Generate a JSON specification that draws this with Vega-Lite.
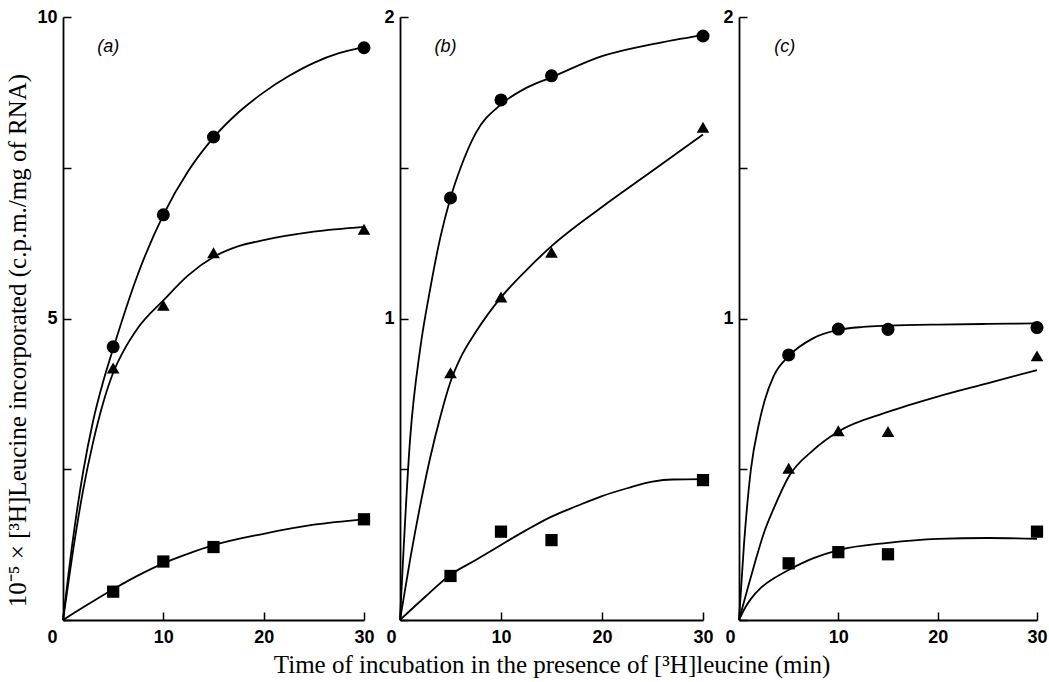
{
  "$schema": "https://vega.github.io/schema/vega-lite/v6.json",
  "padding": {"left": 5, "top": 8, "right": 2, "bottom": 3},
  "background": "white",
  "bounds": "flush",
  "spacing": 36,
  "datasets": {
    "points": [
      {"panel": "a", "series": "circle", "x": 5, "y": 4.53},
      {"panel": "a", "series": "circle", "x": 10, "y": 6.72},
      {"panel": "a", "series": "circle", "x": 15, "y": 8.01},
      {"panel": "a", "series": "circle", "x": 30, "y": 9.49},
      {"panel": "a", "series": "triangle", "x": 5, "y": 4.18},
      {"panel": "a", "series": "triangle", "x": 10, "y": 5.22},
      {"panel": "a", "series": "triangle", "x": 15, "y": 6.09},
      {"panel": "a", "series": "triangle", "x": 30, "y": 6.48},
      {"panel": "a", "series": "square", "x": 5, "y": 0.47},
      {"panel": "a", "series": "square", "x": 10, "y": 0.97},
      {"panel": "a", "series": "square", "x": 15, "y": 1.21},
      {"panel": "a", "series": "square", "x": 30, "y": 1.67},
      {"panel": "b", "series": "circle", "x": 5, "y": 1.40},
      {"panel": "b", "series": "circle", "x": 10, "y": 1.725},
      {"panel": "b", "series": "circle", "x": 15, "y": 1.805},
      {"panel": "b", "series": "circle", "x": 30, "y": 1.937},
      {"panel": "b", "series": "triangle", "x": 5, "y": 0.82},
      {"panel": "b", "series": "triangle", "x": 10, "y": 1.071},
      {"panel": "b", "series": "triangle", "x": 15, "y": 1.22},
      {"panel": "b", "series": "triangle", "x": 30, "y": 1.634},
      {"panel": "b", "series": "square", "x": 5, "y": 0.146},
      {"panel": "b", "series": "square", "x": 10, "y": 0.293},
      {"panel": "b", "series": "square", "x": 15, "y": 0.265},
      {"panel": "b", "series": "square", "x": 30, "y": 0.464},
      {"panel": "c", "series": "circle", "x": 5, "y": 0.879},
      {"panel": "c", "series": "circle", "x": 10, "y": 0.965},
      {"panel": "c", "series": "circle", "x": 15, "y": 0.964},
      {"panel": "c", "series": "circle", "x": 30, "y": 0.97},
      {"panel": "c", "series": "triangle", "x": 5, "y": 0.503},
      {"panel": "c", "series": "triangle", "x": 10, "y": 0.628},
      {"panel": "c", "series": "triangle", "x": 15, "y": 0.625},
      {"panel": "c", "series": "triangle", "x": 30, "y": 0.876},
      {"panel": "c", "series": "square", "x": 5, "y": 0.188},
      {"panel": "c", "series": "square", "x": 10, "y": 0.225},
      {"panel": "c", "series": "square", "x": 15, "y": 0.218},
      {"panel": "c", "series": "square", "x": 30, "y": 0.293}
    ],
    "curves": [
      {"panel": "a", "series": "circle", "x": 0, "y": 0},
      {"panel": "a", "series": "circle", "x": 1, "y": 1.35},
      {"panel": "a", "series": "circle", "x": 2, "y": 2.45},
      {"panel": "a", "series": "circle", "x": 3, "y": 3.3},
      {"panel": "a", "series": "circle", "x": 4, "y": 3.95},
      {"panel": "a", "series": "circle", "x": 5, "y": 4.5},
      {"panel": "a", "series": "circle", "x": 7.5, "y": 5.75},
      {"panel": "a", "series": "circle", "x": 10, "y": 6.72},
      {"panel": "a", "series": "circle", "x": 12.5, "y": 7.45},
      {"panel": "a", "series": "circle", "x": 15, "y": 8.0},
      {"panel": "a", "series": "circle", "x": 17.5, "y": 8.42},
      {"panel": "a", "series": "circle", "x": 20, "y": 8.75},
      {"panel": "a", "series": "circle", "x": 22.5, "y": 9.02},
      {"panel": "a", "series": "circle", "x": 25, "y": 9.24},
      {"panel": "a", "series": "circle", "x": 27.5, "y": 9.4},
      {"panel": "a", "series": "circle", "x": 30, "y": 9.5},
      {"panel": "a", "series": "triangle", "x": 0, "y": 0},
      {"panel": "a", "series": "triangle", "x": 1, "y": 1.15},
      {"panel": "a", "series": "triangle", "x": 2, "y": 2.15},
      {"panel": "a", "series": "triangle", "x": 3, "y": 2.95},
      {"panel": "a", "series": "triangle", "x": 4, "y": 3.6},
      {"panel": "a", "series": "triangle", "x": 5, "y": 4.1},
      {"panel": "a", "series": "triangle", "x": 6, "y": 4.45},
      {"panel": "a", "series": "triangle", "x": 7.5, "y": 4.85},
      {"panel": "a", "series": "triangle", "x": 10, "y": 5.3},
      {"panel": "a", "series": "triangle", "x": 12.5, "y": 5.72},
      {"panel": "a", "series": "triangle", "x": 15, "y": 6.02},
      {"panel": "a", "series": "triangle", "x": 17.5, "y": 6.2},
      {"panel": "a", "series": "triangle", "x": 20, "y": 6.3},
      {"panel": "a", "series": "triangle", "x": 25, "y": 6.44},
      {"panel": "a", "series": "triangle", "x": 30, "y": 6.52},
      {"panel": "a", "series": "square", "x": 0, "y": 0},
      {"panel": "a", "series": "square", "x": 2.5, "y": 0.26},
      {"panel": "a", "series": "square", "x": 5, "y": 0.51},
      {"panel": "a", "series": "square", "x": 7.5, "y": 0.74},
      {"panel": "a", "series": "square", "x": 10, "y": 0.94},
      {"panel": "a", "series": "square", "x": 12.5, "y": 1.1},
      {"panel": "a", "series": "square", "x": 15, "y": 1.24},
      {"panel": "a", "series": "square", "x": 20, "y": 1.43},
      {"panel": "a", "series": "square", "x": 25, "y": 1.58},
      {"panel": "a", "series": "square", "x": 30, "y": 1.67},
      {"panel": "b", "series": "circle", "x": 0, "y": 0},
      {"panel": "b", "series": "circle", "x": 1, "y": 0.6},
      {"panel": "b", "series": "circle", "x": 2, "y": 0.9},
      {"panel": "b", "series": "circle", "x": 3, "y": 1.1},
      {"panel": "b", "series": "circle", "x": 4, "y": 1.27},
      {"panel": "b", "series": "circle", "x": 5, "y": 1.4},
      {"panel": "b", "series": "circle", "x": 6, "y": 1.5},
      {"panel": "b", "series": "circle", "x": 7.5, "y": 1.615},
      {"panel": "b", "series": "circle", "x": 10, "y": 1.71},
      {"panel": "b", "series": "circle", "x": 12.5, "y": 1.765},
      {"panel": "b", "series": "circle", "x": 15, "y": 1.8},
      {"panel": "b", "series": "circle", "x": 20, "y": 1.87},
      {"panel": "b", "series": "circle", "x": 25, "y": 1.91},
      {"panel": "b", "series": "circle", "x": 30, "y": 1.94},
      {"panel": "b", "series": "triangle", "x": 0, "y": 0},
      {"panel": "b", "series": "triangle", "x": 1, "y": 0.2},
      {"panel": "b", "series": "triangle", "x": 2, "y": 0.38},
      {"panel": "b", "series": "triangle", "x": 3, "y": 0.54},
      {"panel": "b", "series": "triangle", "x": 4, "y": 0.675},
      {"panel": "b", "series": "triangle", "x": 5, "y": 0.79},
      {"panel": "b", "series": "triangle", "x": 6, "y": 0.87},
      {"panel": "b", "series": "triangle", "x": 7.5, "y": 0.955},
      {"panel": "b", "series": "triangle", "x": 10, "y": 1.07},
      {"panel": "b", "series": "triangle", "x": 12.5, "y": 1.16},
      {"panel": "b", "series": "triangle", "x": 15, "y": 1.24},
      {"panel": "b", "series": "triangle", "x": 20, "y": 1.37},
      {"panel": "b", "series": "triangle", "x": 25, "y": 1.49},
      {"panel": "b", "series": "triangle", "x": 30, "y": 1.61},
      {"panel": "b", "series": "square", "x": 0, "y": 0},
      {"panel": "b", "series": "square", "x": 2.5, "y": 0.077},
      {"panel": "b", "series": "square", "x": 5, "y": 0.15},
      {"panel": "b", "series": "square", "x": 7.5, "y": 0.199},
      {"panel": "b", "series": "square", "x": 10, "y": 0.249},
      {"panel": "b", "series": "square", "x": 12.5, "y": 0.298},
      {"panel": "b", "series": "square", "x": 15, "y": 0.343},
      {"panel": "b", "series": "square", "x": 17.5, "y": 0.378},
      {"panel": "b", "series": "square", "x": 20, "y": 0.411},
      {"panel": "b", "series": "square", "x": 22.5, "y": 0.437},
      {"panel": "b", "series": "square", "x": 25, "y": 0.459},
      {"panel": "b", "series": "square", "x": 27, "y": 0.466},
      {"panel": "b", "series": "square", "x": 30, "y": 0.467},
      {"panel": "c", "series": "circle", "x": 0, "y": 0},
      {"panel": "c", "series": "circle", "x": 0.5, "y": 0.25},
      {"panel": "c", "series": "circle", "x": 1.2, "y": 0.5},
      {"panel": "c", "series": "circle", "x": 2, "y": 0.65},
      {"panel": "c", "series": "circle", "x": 2.6, "y": 0.73},
      {"panel": "c", "series": "circle", "x": 3.5, "y": 0.81},
      {"panel": "c", "series": "circle", "x": 5, "y": 0.875},
      {"panel": "c", "series": "circle", "x": 7.5, "y": 0.935},
      {"panel": "c", "series": "circle", "x": 10, "y": 0.962},
      {"panel": "c", "series": "circle", "x": 12.5, "y": 0.972},
      {"panel": "c", "series": "circle", "x": 15, "y": 0.976},
      {"panel": "c", "series": "circle", "x": 20, "y": 0.98},
      {"panel": "c", "series": "circle", "x": 25, "y": 0.982},
      {"panel": "c", "series": "circle", "x": 30, "y": 0.984},
      {"panel": "c", "series": "triangle", "x": 0, "y": 0},
      {"panel": "c", "series": "triangle", "x": 1, "y": 0.12},
      {"panel": "c", "series": "triangle", "x": 1.6, "y": 0.19},
      {"panel": "c", "series": "triangle", "x": 2.5, "y": 0.288},
      {"panel": "c", "series": "triangle", "x": 3.5, "y": 0.37},
      {"panel": "c", "series": "triangle", "x": 5, "y": 0.475},
      {"panel": "c", "series": "triangle", "x": 7.5, "y": 0.564},
      {"panel": "c", "series": "triangle", "x": 10, "y": 0.625},
      {"panel": "c", "series": "triangle", "x": 15, "y": 0.69},
      {"panel": "c", "series": "triangle", "x": 20, "y": 0.741},
      {"panel": "c", "series": "triangle", "x": 25, "y": 0.785},
      {"panel": "c", "series": "triangle", "x": 30, "y": 0.829},
      {"panel": "c", "series": "square", "x": 0, "y": 0},
      {"panel": "c", "series": "square", "x": 0.6, "y": 0.04},
      {"panel": "c", "series": "square", "x": 1.2, "y": 0.07},
      {"panel": "c", "series": "square", "x": 2.25, "y": 0.108},
      {"panel": "c", "series": "square", "x": 3.6, "y": 0.14},
      {"panel": "c", "series": "square", "x": 5, "y": 0.166},
      {"panel": "c", "series": "square", "x": 7.5, "y": 0.205},
      {"panel": "c", "series": "square", "x": 10, "y": 0.232},
      {"panel": "c", "series": "square", "x": 15, "y": 0.256},
      {"panel": "c", "series": "square", "x": 20, "y": 0.269},
      {"panel": "c", "series": "square", "x": 25, "y": 0.272},
      {"panel": "c", "series": "square", "x": 30, "y": 0.269}
    ],
    "labels": [
      {"panel": "a", "label": "(a)", "x": 4.5, "y": 9.5},
      {"panel": "b", "label": "(b)", "x": 4.5, "y": 1.9},
      {"panel": "c", "label": "(c)", "x": 4.6, "y": 1.9}
    ]
  },
  "config": {
    "view": {"stroke": null},
    "axis": {
      "grid": false,
      "domainColor": "black",
      "domainWidth": 1.8,
      "tickColor": "black",
      "tickWidth": 1.5,
      "tickSize": -8,
      "labelFont": "Liberation Sans Narrow, Liberation Sans",
      "labelFontSize": 18,
      "labelFontWeight": "bold",
      "labelColor": "black",
      "labelFlush": false,
      "labelOverlap": false,
      "format": "d",
      "titleFont": "Liberation Serif",
      "titleFontSize": 25,
      "titleFontWeight": "normal",
      "titleColor": "black"
    }
  },
  "hconcat": [
    {
      "width": 301,
      "height": 603,
      "layer": [
        {
          "data": {"name": "curves"},
          "transform": [{"filter": "datum.panel == 'a'"}],
          "mark": {"type": "line", "interpolate": "monotone", "color": "black", "strokeWidth": 1.8},
          "encoding": {
            "x": {"field": "x", "type": "quantitative", "scale": {"domain": [0, 30]},
              "axis": {"values": [0, 10, 20, 30], "title": null, "labelPadding": 16,
                "labelOffset": {"condition": {"test": "datum.value == 0", "value": -11}, "value": 0}}},
            "y": {"field": "y", "type": "quantitative", "scale": {"domain": [0, 10]},
              "axis": {"values": [0, 2.5, 5, 7.5, 10], "labelExpr": "datum.value == 5 || datum.value == 10 ? datum.label : ''",
                "labelPadding": 14, "titlePadding": 6, "titleY": 323,
                "title": "10⁻⁵ × [³H]Leucine incorporated (c.p.m./mg of RNA)"}},
            "detail": {"field": "series"}
          }
        },
        {
          "data": {"name": "points"},
          "transform": [{"filter": "datum.panel == 'a'"}],
          "mark": {"type": "point", "filled": true, "color": "black", "opacity": 1},
          "encoding": {
            "x": {"field": "x", "type": "quantitative"},
            "y": {"field": "y", "type": "quantitative"},
            "shape": {"field": "series", "scale": {"domain": ["circle", "triangle", "square"], "range": ["circle", "triangle-up", "square"]}, "legend": null},
            "size": {"field": "series", "scale": {"domain": ["circle", "triangle", "square"], "range": [170, 150, 120]}, "legend": null}
          }
        },
        {
          "data": {"name": "labels"},
          "transform": [{"filter": "datum.panel == 'a'"}],
          "mark": {"type": "text", "font": "Liberation Sans", "fontStyle": "italic", "fontSize": 18, "color": "black"},
          "encoding": {
            "x": {"field": "x", "type": "quantitative"},
            "y": {"field": "y", "type": "quantitative"},
            "text": {"field": "label"}
          }
        }
      ]
    },
    {
      "width": 303,
      "height": 603,
      "layer": [
        {
          "data": {"name": "curves"},
          "transform": [{"filter": "datum.panel == 'b'"}],
          "mark": {"type": "line", "interpolate": "monotone", "color": "black", "strokeWidth": 1.8},
          "encoding": {
            "x": {"field": "x", "type": "quantitative", "scale": {"domain": [0, 30]},
              "axis": {"values": [0, 10, 20, 30], "labelPadding": 16, "titlePadding": 6,
                "labelOffset": {"condition": {"test": "datum.value == 0", "value": -9}, "value": 0},
                "title": "Time of incubation in the presence of [³H]leucine (min)"}},
            "y": {"field": "y", "type": "quantitative", "scale": {"domain": [0, 2]},
              "axis": {"values": [0, 0.5, 1, 1.5, 2], "labelExpr": "datum.value == 1 || datum.value == 2 ? datum.label : ''",
                "labelPadding": 14, "title": null}},
            "detail": {"field": "series"}
          }
        },
        {
          "data": {"name": "points"},
          "transform": [{"filter": "datum.panel == 'b'"}],
          "mark": {"type": "point", "filled": true, "color": "black", "opacity": 1},
          "encoding": {
            "x": {"field": "x", "type": "quantitative"},
            "y": {"field": "y", "type": "quantitative"},
            "shape": {"field": "series", "scale": {"domain": ["circle", "triangle", "square"], "range": ["circle", "triangle-up", "square"]}, "legend": null},
            "size": {"field": "series", "scale": {"domain": ["circle", "triangle", "square"], "range": [170, 150, 120]}, "legend": null}
          }
        },
        {
          "data": {"name": "labels"},
          "transform": [{"filter": "datum.panel == 'b'"}],
          "mark": {"type": "text", "font": "Liberation Sans", "fontStyle": "italic", "fontSize": 18, "color": "black"},
          "encoding": {
            "x": {"field": "x", "type": "quantitative"},
            "y": {"field": "y", "type": "quantitative"},
            "text": {"field": "label"}
          }
        }
      ]
    },
    {
      "width": 298,
      "height": 603,
      "layer": [
        {
          "data": {"name": "curves"},
          "transform": [{"filter": "datum.panel == 'c'"}],
          "mark": {"type": "line", "interpolate": "monotone", "color": "black", "strokeWidth": 1.8},
          "encoding": {
            "x": {"field": "x", "type": "quantitative", "scale": {"domain": [0, 30]},
              "axis": {"values": [0, 10, 20, 30], "title": null, "labelPadding": 16,
                "labelOffset": {"condition": {"test": "datum.value == 0", "value": -9}, "value": 0}}},
            "y": {"field": "y", "type": "quantitative", "scale": {"domain": [0, 2]},
              "axis": {"values": [0, 0.5, 1, 1.5, 2], "labelExpr": "datum.value == 1 || datum.value == 2 ? datum.label : ''",
                "labelPadding": 14, "title": null}},
            "detail": {"field": "series"}
          }
        },
        {
          "data": {"name": "points"},
          "transform": [{"filter": "datum.panel == 'c'"}],
          "mark": {"type": "point", "filled": true, "color": "black", "opacity": 1},
          "encoding": {
            "x": {"field": "x", "type": "quantitative"},
            "y": {"field": "y", "type": "quantitative"},
            "shape": {"field": "series", "scale": {"domain": ["circle", "triangle", "square"], "range": ["circle", "triangle-up", "square"]}, "legend": null},
            "size": {"field": "series", "scale": {"domain": ["circle", "triangle", "square"], "range": [170, 150, 120]}, "legend": null}
          }
        },
        {
          "data": {"name": "labels"},
          "transform": [{"filter": "datum.panel == 'c'"}],
          "mark": {"type": "text", "font": "Liberation Sans", "fontStyle": "italic", "fontSize": 18, "color": "black"},
          "encoding": {
            "x": {"field": "x", "type": "quantitative"},
            "y": {"field": "y", "type": "quantitative"},
            "text": {"field": "label"}
          }
        }
      ]
    }
  ]
}
